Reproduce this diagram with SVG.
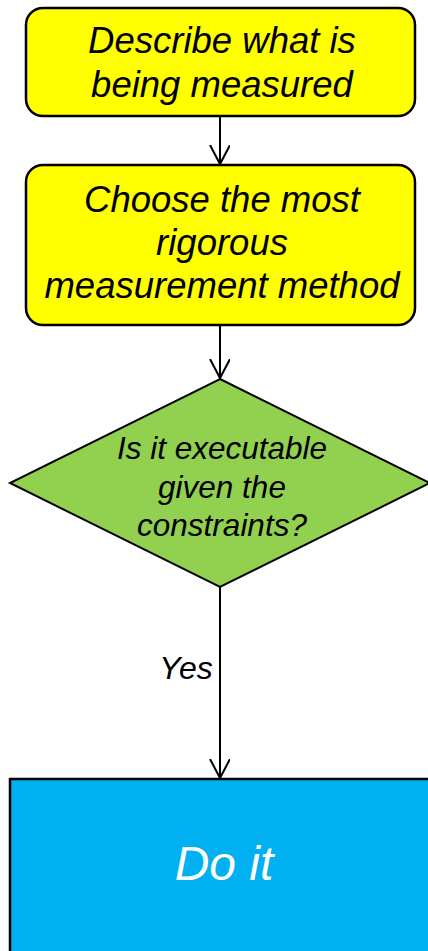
<svg xmlns="http://www.w3.org/2000/svg" width="428" height="951" viewBox="0 0 428 951">
<style>
.t{font-family:"Liberation Sans",Arial,sans-serif;font-style:italic;fill:#000;text-anchor:middle}
.box{fill:#FFFF00;stroke:#000;stroke-width:2.5}
.conn{stroke:#000;stroke-width:2;fill:none}
</style>
<defs>
<marker id="ah" markerUnits="userSpaceOnUse" markerWidth="24" markerHeight="24" refX="19" refY="10" orient="auto" viewBox="0 0 24 24">
<polyline points="0,0 19,10 0,20" fill="none" stroke="#000" stroke-width="2"/>
</marker>
</defs>
<rect width="428" height="951" fill="#fff"/>
<g id="connectors">
<line class="conn" x1="220" y1="116" x2="220" y2="164" marker-end="url(#ah)"/>
<line class="conn" x1="220" y1="325" x2="220" y2="378" marker-end="url(#ah)"/>
<line class="conn" x1="220" y1="587" x2="220" y2="778" marker-end="url(#ah)"/>
<text class="t" x="186" y="679" font-size="32">Yes</text>
</g>
<g id="describe">
<rect class="box" x="26" y="8" width="389" height="108" rx="17"/>
<text class="t" x="222" y="53" font-size="36.5">Describe what is</text>
<text class="t" x="222" y="97" font-size="36.5">being measured</text>
</g>
<g id="choose">
<rect class="box" x="26" y="165" width="389" height="160" rx="17"/>
<text class="t" x="222" y="212" font-size="36.5">Choose the most</text>
<text class="t" x="222" y="255" font-size="36.5">rigorous</text>
<text class="t" x="222" y="298" font-size="36.5">measurement method</text>
</g>
<g id="decision">
<polygon points="220,379 430,483 220,587 10,483" fill="#92D050" stroke="#000" stroke-width="2"/>
<text class="t" x="222" y="459" font-size="31.5">Is it executable</text>
<text class="t" x="222" y="498" font-size="31.5">given the</text>
<text class="t" x="222" y="536" font-size="31.5">constraints?</text>
</g>
<g id="doit">
<rect x="10" y="779" width="430" height="180" fill="#00B0F0" stroke="#000" stroke-width="2.5"/>
<text class="t" x="224" y="880" font-size="48" style="fill:#fff">Do it</text>
</g>
</svg>
